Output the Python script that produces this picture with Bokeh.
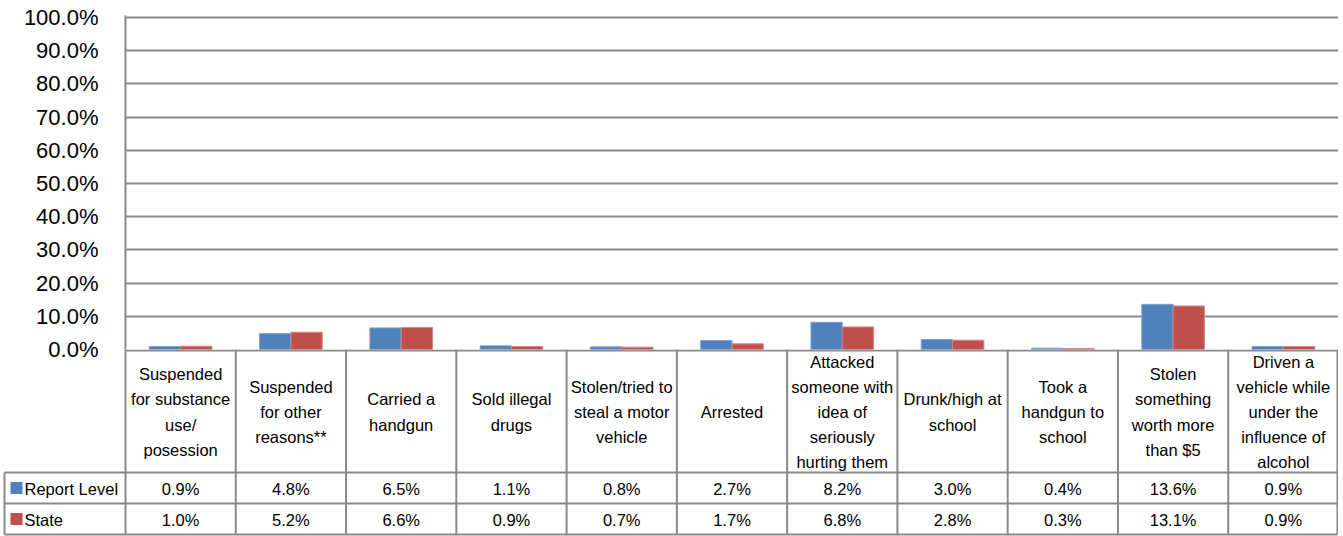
from bokeh.plotting import figure
from bokeh.models import Range1d, FixedTicker, PrintfTickFormatter, ColumnDataSource
from bokeh.transform import dodge
from bokeh.core.properties import value
from bokeh.embed import file_html
from bokeh.resources import INLINE

# ---------------- data ----------------
categories = [
    "Suspended\nfor substance\nuse/\nposession",
    "Suspended\nfor other\nreasons**",
    "Carried a\nhandgun",
    "Sold illegal\ndrugs",
    "Stolen/tried to\nsteal a motor\nvehicle",
    "Arrested",
    "Attacked\nsomeone with\nidea of\nseriously\nhurting them",
    "Drunk/high at\nschool",
    "Took a\nhandgun to\nschool",
    "Stolen\nsomething\nworth more\nthan $5",
    "Driven a\nvehicle while\nunder the\ninfluence of\nalcohol",
]
report_level = [0.9, 4.8, 6.5, 1.1, 0.8, 2.7, 8.2, 3.0, 0.4, 13.6, 0.9]
state = [1.0, 5.2, 6.6, 0.9, 0.7, 1.7, 6.8, 2.8, 0.3, 13.1, 0.9]
series_names = ["Report Level", "State"]
y_ticks = [0, 10, 20, 30, 40, 50, 60, 70, 80, 90, 100]

# ---------------- style ----------------
FONT = value("Liberation Sans")
BLUE = "#4F81BD"
RED = "#C0504D"
GRID = "#898989"
W = 1338
LEFT = 125                    # px left of the category area
N = len(categories)
CATW = (W - LEFT) / N         # px per category
BAR_W = 0.284
PX_PER_PCT = 3.32
xr = N - 1 / CATW

# ---------------- chart ----------------
top_border = 15
zero_px = 349                 # pixel row of 0 %
bottom_pad = 14               # room for the "0.0%" label below the frame
p1 = figure(width=W, height=zero_px + bottom_pad, output_backend="svg", toolbar_location=None,
            x_range=Range1d(0, N),
            y_range=Range1d(0, (zero_px - top_border) / PX_PER_PCT),
            x_axis_location=None, min_border_left=LEFT, min_border_right=0,
            min_border_top=top_border, min_border_bottom=bottom_pad)
p1.outline_line_color = None
p1.xgrid.visible = False
p1.ygrid.ticker = FixedTicker(ticks=y_ticks[1:])
p1.ygrid.grid_line_color = GRID
p1.ygrid.grid_line_width = 2
p1.yaxis.ticker = FixedTicker(ticks=y_ticks)
p1.yaxis.formatter = PrintfTickFormatter(format="%.1f%%")
p1.yaxis.axis_line_color = GRID
p1.yaxis.axis_line_width = 2
p1.yaxis.major_tick_line_color = None
p1.yaxis.minor_tick_line_color = None
p1.yaxis.major_label_standoff = 21
p1.yaxis.major_label_text_font = "Liberation Sans"
p1.yaxis.major_label_text_font_size = "22px"
p1.yaxis.major_label_text_color = "#000000"

xs = [i + 0.5 for i in range(N)]
src = ColumnDataSource(dict(x=xs, r=report_level, s=state))
p1.vbar(x=dodge("x", -BAR_W / 2), top="r", width=BAR_W, source=src,
        fill_color=BLUE, line_color="#7FA3D0", line_width=1)
p1.vbar(x=dodge("x", BAR_W / 2), top="s", width=BAR_W, source=src,
        fill_color=RED, line_color="#D58482", line_width=1)

# ---------------- data table (overlaps the chart's bottom padding) ----------------
bot_h = 536 - zero_px
x0 = -LEFT / CATW
p2 = figure(width=W, height=bot_h, output_backend="svg", toolbar_location=None,
            x_range=Range1d(x0, N), y_range=Range1d(bot_h, 0),
            x_axis_location=None, y_axis_location=None,
            min_border_left=0, min_border_right=0, min_border_top=0, min_border_bottom=0,
            margin=(-bottom_pad, 0, 0, 0))
p2.outline_line_color = None
p2.background_fill_color = None
p2.border_fill_color = None
p2.grid.visible = False

HDR = 123
r1 = HDR
r2 = HDR + 31
r3 = HDR + 62
xl = x0 + 4 / CATW

seg_x0, seg_y0, seg_x1, seg_y1 = [], [], [], []
for i in range(N + 1):
    xv = min(i, xr)
    seg_x0.append(xv); seg_y0.append(0); seg_x1.append(xv); seg_y1.append(r3)
seg_x0.append(xl); seg_y0.append(r1); seg_x1.append(xl); seg_y1.append(r3)
seg_x0.append(0); seg_y0.append(1); seg_x1.append(xr); seg_y1.append(1)
for yy in (r1, r2, r3):
    seg_x0.append(xl); seg_y0.append(yy); seg_x1.append(xr); seg_y1.append(yy)
p2.segment(x0=seg_x0, y0=seg_y0, x1=seg_x1, y1=seg_y1, line_color=GRID, line_width=2)

p2.text(x=xs, y=[HDR / 2 + 1] * N, text=categories, text_font=FONT,
        text_font_size="16.5px", text_align="center", text_baseline="middle",
        text_line_height=1.4, text_color="#000000")

fmt = lambda v: f"{v:.1f}%"
yc1 = (r1 + r2) / 2 + 1
yc2 = (r2 + r3) / 2 + 1
p2.text(x=xs, y=[yc1] * N, text=[fmt(v) for v in report_level], text_font=FONT,
        text_font_size="16.5px", text_align="center", text_baseline="middle", text_color="#000000")
p2.text(x=xs, y=[yc2] * N, text=[fmt(v) for v in state], text_font=FONT,
        text_font_size="16.5px", text_align="center", text_baseline="middle", text_color="#000000")

kx = x0 + 16 / CATW
p2.scatter(x=[kx, kx], y=[yc1 - 1, yc2 - 1], marker="square", size=12,
           fill_color=[BLUE, RED], line_color=None)
p2.text(x=[x0 + 24 / CATW] * 2, y=[yc1, yc2], text=series_names, text_font=FONT,
        text_font_size="16.5px", text_align="left", text_baseline="middle", text_color="#000000")

open("out.html", "w").write(file_html([p1, p2], INLINE))
